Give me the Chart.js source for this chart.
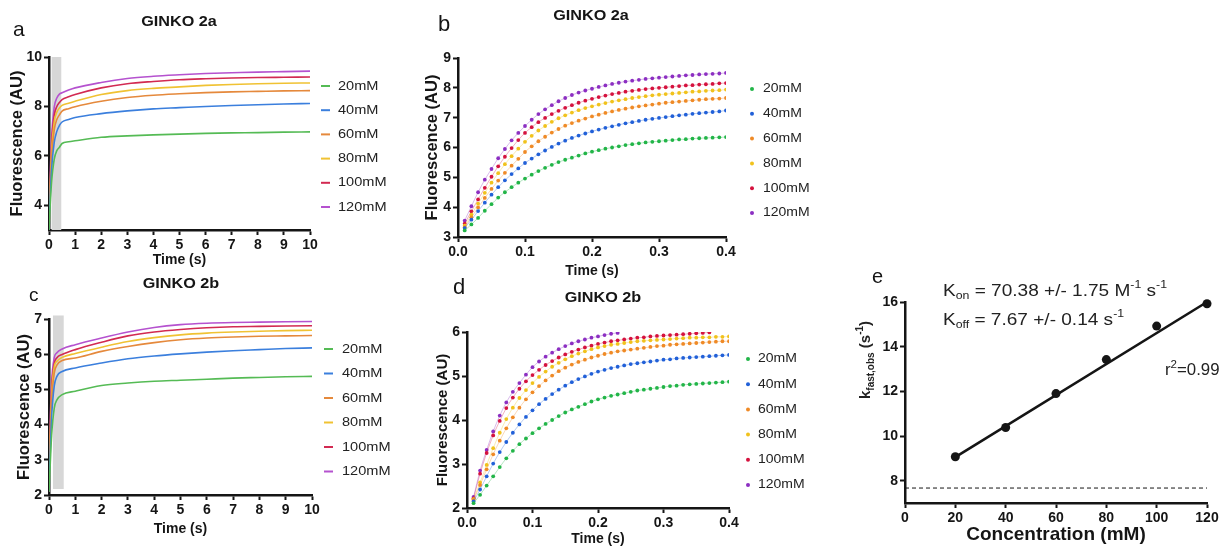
<!DOCTYPE html>
<html>
<head>
<meta charset="utf-8">
<title>GINKO 2 stopped-flow kinetics</title>
<script src="https://cdn.jsdelivr.net/npm/chart.js@4/dist/chart.umd.min.js"></script>
<style>
  body { margin: 0; background: #fff; width: 1221px; height: 548px; overflow: hidden; position: relative; }
  canvas { position: absolute; left: 0; top: 0; }
</style>
</head>
<body>
<canvas id="panel-a" width="1221" height="548"></canvas>
<canvas id="panel-b" width="1221" height="548"></canvas>
<canvas id="panel-c" width="1221" height="548"></canvas>
<canvas id="panel-d" width="1221" height="548"></canvas>
<canvas id="panel-e" width="1221" height="548"></canvas>
<script>
// ---- data ----
const concLabels = ["20mM", "40mM", "60mM", "80mM", "100mM", "120mM"];

// panel a: GINKO 2a, 0-10 s traces
const timeA = [0, 0.05, 0.1, 0.2, 0.3, 0.4, 0.5, 0.75, 1, 2, 3, 4, 5, 6, 7, 8, 9, 10];
const a20 = [3.0, 4.10, 4.96, 5.86, 6.21, 6.35, 6.50, 6.57, 6.61, 6.75, 6.81, 6.85, 6.88, 6.91, 6.93, 6.94, 6.96, 6.97];
const a40 = [3.0, 4.42, 5.48, 6.54, 6.99, 7.23, 7.37, 7.47, 7.55, 7.71, 7.82, 7.90, 7.95, 8.00, 8.04, 8.07, 8.10, 8.12];
const a60 = [3.0, 4.61, 5.85, 7.04, 7.47, 7.66, 7.81, 7.91, 7.99, 8.21, 8.36, 8.45, 8.51, 8.56, 8.59, 8.61, 8.63, 8.64];
const a80 = [3.0, 4.82, 6.19, 7.38, 7.77, 7.94, 8.04, 8.13, 8.21, 8.48, 8.64, 8.73, 8.79, 8.85, 8.89, 8.92, 8.94, 8.95];
const a100 = [3.0, 5.02, 6.49, 7.63, 8.00, 8.16, 8.28, 8.39, 8.48, 8.75, 8.92, 9.01, 9.08, 9.12, 9.15, 9.17, 9.18, 9.19];
const a120 = [3.0, 5.28, 6.72, 7.97, 8.34, 8.50, 8.55, 8.66, 8.75, 8.97, 9.13, 9.22, 9.28, 9.33, 9.36, 9.39, 9.41, 9.43];
const shadeA = [0.1, 0.47, 3, 10];   // grey region: x from, x to, y from, y to

// panel b: GINKO 2a, first 0.4 s
const timeB = [0.01, 0.02, 0.03, 0.04, 0.05, 0.06, 0.07, 0.08, 0.09, 0.10,
               0.11, 0.12, 0.13, 0.14, 0.15, 0.16, 0.17, 0.18, 0.19, 0.20,
               0.21, 0.22, 0.23, 0.24, 0.25, 0.26, 0.27, 0.28, 0.29, 0.30,
               0.31, 0.32, 0.33, 0.34, 0.35, 0.36, 0.37, 0.38, 0.39, 0.40];
const b20 = [3.22,3.42,3.64,3.88,4.10,4.32,4.50,4.67,4.82,4.96, 5.09,5.21,5.32,5.42,5.51,5.59,5.66,5.73,5.80,5.86,
             5.91,5.96,6.00,6.04,6.08,6.11,6.14,6.17,6.19,6.21, 6.23,6.25,6.27,6.28,6.30,6.31,6.32,6.33,6.34,6.35];
const b40 = [3.30,3.58,3.87,4.15,4.42,4.67,4.90,5.11,5.30,5.48, 5.63,5.77,5.90,6.02,6.13,6.23,6.32,6.40,6.47,6.54,
             6.60,6.66,6.71,6.76,6.81,6.85,6.89,6.93,6.96,6.99, 7.02,7.05,7.08,7.10,7.13,7.15,7.17,7.19,7.21,7.24];
const b60 = [3.33,3.66,3.99,4.31,4.61,4.89,5.15,5.39,5.62,5.85, 6.04,6.21,6.36,6.50,6.62,6.73,6.82,6.90,6.97,7.04,
             7.10,7.16,7.21,7.26,7.30,7.34,7.38,7.41,7.44,7.47, 7.50,7.52,7.54,7.56,7.58,7.60,7.62,7.63,7.64,7.66];
const b80 = [3.38,3.75,4.12,4.48,4.82,5.14,5.44,5.71,5.96,6.19, 6.39,6.57,6.72,6.86,6.98,7.08,7.17,7.25,7.32,7.38,
             7.44,7.49,7.54,7.58,7.62,7.66,7.69,7.72,7.75,7.77, 7.79,7.81,7.83,7.85,7.87,7.88,7.90,7.91,7.92,7.94];
const b100 = [3.45,3.86,4.26,4.65,5.02,5.37,5.69,5.98,6.25,6.49, 6.68,6.85,6.99,7.12,7.23,7.33,7.42,7.50,7.57,7.63,
              7.69,7.74,7.79,7.83,7.87,7.90,7.93,7.96,7.98,8.00, 8.02,8.04,8.06,8.08,8.09,8.11,8.12,8.13,8.15,8.16];
const b120 = [3.55,4.03,4.50,4.92,5.28,5.64,5.95,6.24,6.49,6.72, 6.93,7.12,7.28,7.42,7.55,7.66,7.76,7.84,7.91,7.97,
              8.03,8.08,8.13,8.17,8.21,8.24,8.27,8.30,8.32,8.34, 8.36,8.38,8.40,8.42,8.43,8.45,8.46,8.47,8.48,8.50];

// panel c: GINKO 2b, 0-10 s traces
const timeC = [0, 0.05, 0.1, 0.2, 0.3, 0.5, 1, 2, 3, 4, 5, 6, 7, 8, 9, 10];
const c20 = [2.1, 2.93, 3.70, 4.47, 4.70, 4.85, 4.95, 5.11, 5.18, 5.23, 5.26, 5.29, 5.32, 5.34, 5.36, 5.37];
const c40 = [2.1, 3.27, 4.22, 5.10, 5.37, 5.51, 5.61, 5.75, 5.87, 5.95, 6.01, 6.06, 6.10, 6.13, 6.16, 6.18];
const c60 = [2.1, 3.53, 4.63, 5.46, 5.69, 5.82, 5.89, 6.08, 6.22, 6.33, 6.41, 6.46, 6.49, 6.51, 6.52, 6.53];
const c80 = [2.1, 3.71, 4.84, 5.65, 5.80, 5.91, 6.02, 6.20, 6.36, 6.47, 6.55, 6.60, 6.63, 6.65, 6.67, 6.68];
const c100 = [2.1, 3.98, 5.02, 5.73, 5.90, 5.99, 6.13, 6.34, 6.52, 6.63, 6.70, 6.75, 6.78, 6.79, 6.80, 6.81];
const c120 = [2.1, 4.10, 5.20, 5.90, 6.04, 6.15, 6.27, 6.46, 6.63, 6.76, 6.84, 6.88, 6.90, 6.91, 6.92, 6.93];
const shadeC = [0.15, 0.56, 2.17, 7.1];

// panel d: GINKO 2b, first 0.4 s (100mM and 120mM stop early)
const d20 = [2.11,2.30,2.51,2.72,2.93,3.13,3.30,3.45,3.58,3.70, 3.81,3.91,4.00,4.09,4.17,4.24,4.30,4.36,4.42,4.47,
             4.51,4.55,4.58,4.61,4.64,4.67,4.69,4.71,4.73,4.75, 4.77,4.78,4.80,4.81,4.82,4.83,4.84,4.85,4.86,4.87];
const d40 = [2.15,2.42,2.72,3.01,3.27,3.50,3.71,3.90,4.07,4.22, 4.36,4.48,4.59,4.69,4.78,4.86,4.93,4.99,5.05,5.10,
             5.14,5.18,5.21,5.24,5.27,5.29,5.31,5.33,5.35,5.37, 5.38,5.40,5.41,5.42,5.43,5.44,5.45,5.46,5.47,5.48];
const d60 = [2.18,2.52,2.88,3.22,3.53,3.81,4.06,4.28,4.47,4.63, 4.77,4.90,5.01,5.11,5.19,5.26,5.32,5.37,5.42,5.46,
             5.50,5.53,5.56,5.58,5.60,5.62,5.64,5.66,5.68,5.69, 5.71,5.72,5.73,5.74,5.75,5.76,5.77,5.78,5.79,5.79];
const d80 = [2.20,2.58,2.98,3.36,3.71,4.02,4.28,4.50,4.68,4.84, 4.98,5.10,5.21,5.30,5.38,5.45,5.51,5.56,5.61,5.65,
             5.68,5.71,5.73,5.75,5.77,5.79,5.80,5.81,5.82,5.83, 5.84,5.85,5.86,5.87,5.87,5.88,5.88,5.89,5.89,5.90];
const d100 = [2.22,2.78,3.25,3.65,3.98,4.27,4.51,4.71,4.88,5.02, 5.14,5.25,5.34,5.42,5.49,5.55,5.60,5.65,5.69,5.73,
              5.76,5.79,5.81,5.83,5.85,5.87,5.88,5.90,5.91,5.92, 5.93,5.94,5.95,5.96,5.97,5.98,5.99];
const d120 = [2.25,2.85,3.32,3.74,4.10,4.40,4.64,4.84,5.03,5.20, 5.33,5.44,5.53,5.61,5.68,5.74,5.79,5.83,5.87,5.90,
              5.93,5.96,5.98];

// panel e: observed rate vs concentration
const concE = [20, 40, 60, 80, 100, 120];
const kObs = [9.07, 10.38, 11.90, 13.42, 14.92, 15.92];
const fitX = [20, 120];
const fitY = [9.05, 16.0];
const kOff = 7.67;
const kOffX = [0, 120];

// tick labels
const ticksA_x = [0, 1, 2, 3, 4, 5, 6, 7, 8, 9, 10];
const ticksA_y = [4, 6, 8, 10];
const ticksB_x = [0.0, 0.1, 0.2, 0.3, 0.4];
const ticksB_y = [3, 4, 5, 6, 7, 8, 9];
const ticksC_y = [2, 3, 4, 5, 6, 7];
const ticksD_y = [2, 3, 4, 5, 6];
const ticksE_x = [0, 20, 40, 60, 80, 100, 120];
const ticksE_y = [8, 10, 12, 14, 16];

// ---- styling ----
const FONT = "'Liberation Sans', Arial, sans-serif";
const INK = "#151515";
const lineColors = ["#55bb55", "#3b7fdd", "#e5893c", "#f0c233", "#d22a52", "#b552cf"];
const dotColors = ["#22b548", "#2160d8", "#ef8a26", "#f1c21c", "#d5123e", "#8c2fc2"];

Chart.defaults.font.family = FONT;
Chart.defaults.color = INK;
Chart.defaults.animation = false;

function pairs(xs, ys) {
  return ys.map((v, i) => ({ x: xs[i], y: v }));
}

function axis(opts) {
  return {
    type: "linear",
    min: opts.min,
    max: opts.max,
    afterBuildTicks: s => { s.ticks = opts.ticks.map(v => ({ value: v })); },
    afterFit: s => { if (opts.width) s.width = opts.width; if (opts.height) s.height = opts.height; },
    ticks: {
      autoSkip: false, maxRotation: 0, padding: 2,
      font: { size: opts.tickSize || 14, weight: "bold" }, color: INK,
      callback: v => opts.fmt ? opts.fmt(v) : String(v)
    },
    grid: { drawOnChartArea: false, drawTicks: true, tickLength: 5, tickWidth: 2, color: INK },
    border: { display: true, color: INK, width: 2.5 },
    title: {
      display: !!opts.title, text: opts.title, padding: 0, color: INK,
      font: { size: opts.titleSize || 14, weight: "bold", lineHeight: 1.2 }
    }
  };
}

// text with sub / superscripts, parts = [[text, "n" | "sub" | "sup"], ...]
function richWidth(ctx, parts, size, weight) {
  let w = 0;
  for (const [t, m] of parts) {
    ctx.font = `${weight} ${m === "n" ? size : Math.round(size * 0.66)}px ${FONT}`;
    w += ctx.measureText(t).width;
  }
  return w;
}
function richText(ctx, parts, x, y, size, weight) {
  let cx = x;
  for (const [t, m] of parts) {
    const s = m === "n" ? size : Math.round(size * 0.66);
    const dy = m === "sub" ? size * 0.32 : m === "sup" ? -size * 0.36 : 0;
    ctx.font = `${weight} ${s}px ${FONT}`;
    ctx.fillText(t, cx, y + dy);
    cx += ctx.measureText(t).width;
  }
}

// panel letter, panel title, grey shading and legend
function decor(cfg) {
  return {
    id: "decor",
    beforeDatasetsDraw(chart) {
      if (!cfg.shade) return;
      const { ctx, scales: { x, y } } = chart;
      const x0 = x.getPixelForValue(cfg.shade[0]), x1 = x.getPixelForValue(cfg.shade[1]);
      const y0 = y.getPixelForValue(cfg.shade[3]), y1 = y.getPixelForValue(cfg.shade[2]);
      ctx.save();
      ctx.fillStyle = "#d7d7d7";
      ctx.fillRect(x0, y0, x1 - x0, y1 - y0);
      ctx.restore();
    },
    afterDraw(chart) {
      const ctx = chart.ctx;
      ctx.save();
      ctx.fillStyle = INK;
      ctx.textBaseline = "middle";
      ctx.textAlign = "left";
      ctx.font = `${cfg.letterSize || 20}px ${FONT}`;
      ctx.fillText(cfg.letter, cfg.letterAt[0], cfg.letterAt[1]);
      if (cfg.title) {
        ctx.save();
        ctx.translate(cfg.titleAt[0], cfg.titleAt[1]);
        ctx.scale(1.08, 1);
        ctx.textAlign = "center";
        ctx.font = `bold 15px ${FONT}`;
        ctx.fillText(cfg.title, 0, 0);
        ctx.restore();
      }
      if (cfg.legend) {
        const L = cfg.legend;
        chart.data.datasets.forEach((ds, i) => {
          const y = L.y0 + i * L.step;
          if (L.dot) {
            ctx.fillStyle = ds.pointBackgroundColor;
            ctx.beginPath();
            ctx.arc(L.markX, y, 2, 0, Math.PI * 2);
            ctx.fill();
          } else {
            ctx.strokeStyle = ds.borderColor;
            ctx.lineWidth = 2;
            ctx.beginPath();
            ctx.moveTo(L.markX, y);
            ctx.lineTo(L.markX + 9, y);
            ctx.stroke();
          }
          ctx.save();
          ctx.translate(L.textX, y);
          ctx.scale(1.12, 1);
          ctx.fillStyle = "#222";
          ctx.font = `${L.size}px ${FONT}`;
          ctx.fillText(ds.label, 0, 0);
          ctx.restore();
        });
      }
      if (cfg.extra) cfg.extra(ctx, chart);
      ctx.restore();
    }
  };
}

function makeChart(id, datasets, scales, padding, plugin) {
  return new Chart(document.getElementById(id), {
    type: "scatter",
    data: { datasets },
    options: {
      responsive: false,
      animation: false,
      layout: { padding },
      plugins: { legend: { display: false }, tooltip: { enabled: false } },
      scales
    },
    plugins: [plugin]
  });
}

function traceSets(times, series, colors) {
  return series.map((ys, i) => ({
    label: concLabels[i],
    data: pairs(times, ys),
    showLine: true,
    borderColor: colors[i],
    borderWidth: 1.6,
    pointRadius: 0,
    cubicInterpolationMode: "monotone"
  }));
}

function dotSets(times, series, colors) {
  return series.map((ys, i) => ({
    label: concLabels[i],
    data: pairs(times, ys),
    showLine: true,
    borderColor: colors[i] + "55",
    borderWidth: 1,
    pointRadius: 1.9,
    pointBorderWidth: 0,
    pointBackgroundColor: colors[i],
    cubicInterpolationMode: "monotone"
  }));
}

// ---- panel a ----
makeChart("panel-a",
  traceSets(timeA, [a20, a40, a60, a80, a100, a120], lineColors),
  {
    x: axis({ min: 0, max: 10, ticks: ticksA_x, title: "Time (s)", height: 39 }),
    y: axis({ min: 3, max: 10, ticks: ticksA_y, title: "Fluorescence (AU)", titleSize: 16.5, width: 41 })
  },
  { left: 8, top: 57, right: 1221 - 310, bottom: 548 - 269 },
  decor({ letter: "a", letterAt: [13, 30], letterSize: 21, title: "GINKO 2a", titleAt: [179, 22], shade: shadeA,
          legend: { markX: 321, textX: 338, y0: 86, step: 24.2, size: 13 } })
);

// ---- panel b ----
makeChart("panel-b",
  dotSets(timeB, [b20, b40, b60, b80, b100, b120], dotColors),
  {
    x: axis({ min: 0, max: 0.4, ticks: ticksB_x, fmt: v => v.toFixed(1), title: "Time (s)", height: 43 }),
    y: axis({ min: 3, max: 9, ticks: ticksB_y, title: "Fluorescence (AU)", titleSize: 16.5, width: 35 })
  },
  { left: 423, top: 58, right: 1221 - 726, bottom: 548 - 280 },
  decor({ letter: "b", letterAt: [438, 25], letterSize: 22, title: "GINKO 2a", titleAt: [591, 16],
          legend: { dot: true, markX: 752, textX: 763, y0: 89, step: 24.8, size: 12.5 } })
);

// ---- panel c ----
makeChart("panel-c",
  traceSets(timeC, [c20, c40, c60, c80, c100, c120], lineColors),
  {
    x: axis({ min: 0, max: 10, ticks: ticksA_x, title: "Time (s)", height: 43 }),
    y: axis({ min: 2, max: 7, ticks: ticksC_y, title: "Fluorescence (AU)", titleSize: 16.5, width: 34 })
  },
  { left: 15, top: 319, right: 1221 - 312, bottom: 548 - 538 },
  decor({ letter: "c", letterAt: [29, 296], letterSize: 19, title: "GINKO 2b", titleAt: [181, 284], shade: shadeC,
          legend: { markX: 324, textX: 342, y0: 349, step: 24.5, size: 13 } })
);

// ---- panel d ----
makeChart("panel-d",
  dotSets(timeB, [d20, d40, d60, d80, d100, d120], dotColors),
  {
    x: axis({ min: 0, max: 0.4, ticks: ticksB_x, fmt: v => v.toFixed(1), title: "Time (s)", height: 40 }),
    y: axis({ min: 2, max: 6, ticks: ticksD_y, title: "Fluorescence (AU)", titleSize: 15, width: 33 })
  },
  { left: 434, top: 332, right: 1221 - 729, bottom: 0 },
  decor({ letter: "d", letterAt: [453, 288], letterSize: 22, title: "GINKO 2b", titleAt: [603, 298],
          legend: { dot: true, markX: 748, textX: 758, y0: 359, step: 25.2, size: 12.5 } })
);

// ---- panel e ----
makeChart("panel-e",
  [
    { label: "kobs", data: pairs(concE, kObs), pointRadius: 4.5, pointBackgroundColor: INK, pointBorderWidth: 0, clip: false },
    { label: "fit", data: pairs(fitX, fitY), showLine: true, borderColor: INK, borderWidth: 2.6, pointRadius: 0, clip: false },
    { label: "koff", data: pairs(kOffX, [kOff, kOff]), showLine: true, borderColor: INK, borderWidth: 1,
      borderDash: [4, 3], pointRadius: 0 }
  ],
  {
    x: axis({ min: 0, max: 120, ticks: ticksE_x, title: "Concentration (mM)", titleSize: 19, height: 43, tickSize: 14 }),
    y: axis({ min: 7, max: 16, ticks: ticksE_y, width: 26, tickSize: 14 })
  },
  { left: 879, top: 302, right: 14, bottom: 2 },
  decor({ letter: "e", letterAt: [872, 277], letterSize: 20,
    extra: (ctx) => {
      ctx.fillStyle = "#222";
      ctx.save();
      ctx.translate(943, 291);
      ctx.scale(1.12, 1);
      richText(ctx, [["K", "n"], ["on", "sub"], [" = 70.38 +/- 1.75 M", "n"], ["-1", "sup"], [" s", "n"], ["-1", "sup"]], 0, 0, 17, "normal");
      ctx.restore();
      ctx.save();
      ctx.translate(943, 320);
      ctx.scale(1.12, 1);
      richText(ctx, [["K", "n"], ["off", "sub"], [" = 7.67 +/- 0.14 s", "n"], ["-1", "sup"]], 0, 0, 17, "normal");
      ctx.restore();
      ctx.save();
      ctx.translate(1165, 371);
      ctx.scale(1.05, 1);
      richText(ctx, [["r", "n"], ["2", "sup"], ["=0.99", "n"]], 0, 0, 16, "normal");
      ctx.restore();
      // y-axis title, rotated
      const parts = [["k", "n"], ["fast,obs", "sub"], [" (s", "n"], ["-1", "sup"], [")", "n"]];
      ctx.save();
      ctx.translate(866, 360);
      ctx.rotate(-Math.PI / 2);
      const w = richWidth(ctx, parts, 15, "bold");
      richText(ctx, parts, -w / 2, 0, 15, "bold");
      ctx.restore();
    }
  })
);
</script>
</body>
</html>
